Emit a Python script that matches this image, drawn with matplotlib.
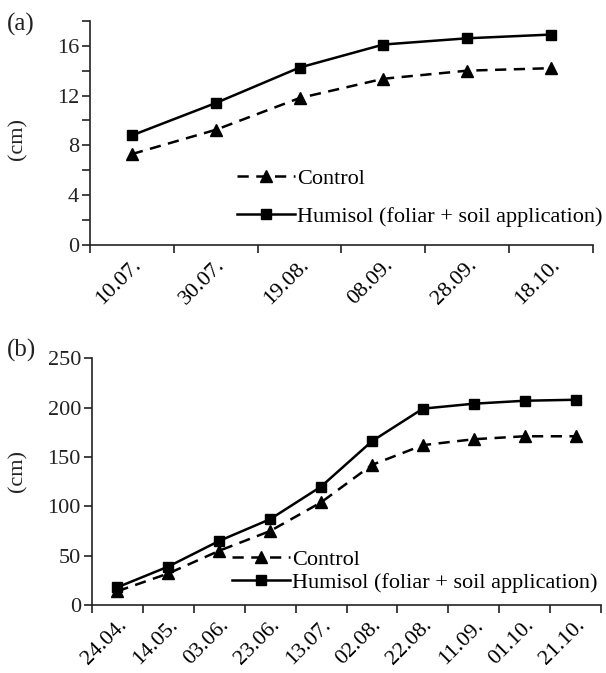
import matplotlib.pyplot as plt
import numpy as np

plt.rcParams['font.family'] = ['Liberation Serif', 'DejaVu Serif']
plt.rcParams['font.size'] = 16

# panel (a)
dates_a = ['10.07.', '30.07.', '19.08.', '08.09.', '28.09.', '18.10.']
control_a = [7.3, 9.25, 11.8, 13.35, 14.0, 14.2]
humisol_a = [8.8, 11.4, 14.25, 16.1, 16.6, 16.9]

# panel (b)
dates_b = ['24.04.', '14.05.', '03.06.', '23.06.', '13.07.', '02.08.',
           '22.08.', '11.09.', '01.10.', '21.10.']
control_b = [14, 32, 55, 75, 104, 142, 162, 168, 171, 171]
humisol_b = [18, 39, 65, 87, 120, 166, 199, 204, 207, 208]

fig = plt.figure(figsize=(6.06, 6.73), dpi=100)
ax_a = fig.add_axes([0.1485, 0.636, 0.83, 0.333])
ax_b = fig.add_axes([0.1518, 0.101, 0.84, 0.3666])


def draw(ax, dates, control, humisol):
    x = np.arange(len(dates)) + 0.5
    ax.plot(x, control, color='black', lw=1.8, linestyle=(0, (4.5, 3)),
            marker='^', markersize=8, label='Control')
    ax.plot(x, humisol, color='black', lw=1.8, marker='s', markersize=7,
            label='Humisol (foliar + soil application)')
    ax.set_xlim(0, len(dates))
    ax.set_xticks(np.arange(len(dates) + 1))
    ax.set_xticklabels([])
    ax.set_xticks(x, minor=True)
    ax.set_xticklabels(dates, minor=True, rotation=45, ha='right',
                       rotation_mode='anchor')
    ax.tick_params(axis='x', which='minor', length=0, pad=8)
    ax.tick_params(axis='both', which='major', length=6, width=1.2,
                   direction='out', colors='#222222', labelcolor='#222222')
    ax.tick_params(axis='y', which='minor', length=6, width=1.2,
                   color='#222222')
    ax.tick_params(axis='y', which='major', pad=2)
    for s in ['top', 'right']:
        ax.spines[s].set_visible(False)
    for s in ['left', 'bottom']:
        ax.spines[s].set_linewidth(1.2)
        ax.spines[s].set_color('#222222')


draw(ax_a, dates_a, control_a, humisol_a)
ax_a.set_ylim(0, 18)
ax_a.set_yticks([0, 4, 8, 12, 16])
ax_a.set_yticks([2, 6, 10, 14, 18], minor=True)
ax_a.legend(loc='lower right', bbox_to_anchor=(1.045, 0.02), frameon=False,
            handlelength=2.6, handletextpad=0.1, labelspacing=0.8,
            borderaxespad=0.2, fontsize=16)

draw(ax_b, dates_b, control_b, humisol_b)
ax_b.set_ylim(0, 250)
ax_b.set_yticks([0, 50, 100, 150, 200, 250])
ax_b.legend(loc='lower right', bbox_to_anchor=(1.02, -0.005), frameon=False,
            handlelength=2.6, handletextpad=0.1, labelspacing=0.1,
            borderaxespad=0.2, fontsize=16)

fig.text(0.03, 0.793, '(cm)', rotation=90, ha='center', va='center',
         fontsize=16, color='#222222')
fig.text(0.03, 0.30, '(cm)', rotation=90, ha='center', va='center',
         fontsize=16, color='#222222')
fig.text(0.012, 0.955, '(a)', fontsize=18, color='#222222')
fig.text(0.012, 0.47, '(b)', fontsize=18, color='#222222')

fig.savefig('out.png', dpi=100)
